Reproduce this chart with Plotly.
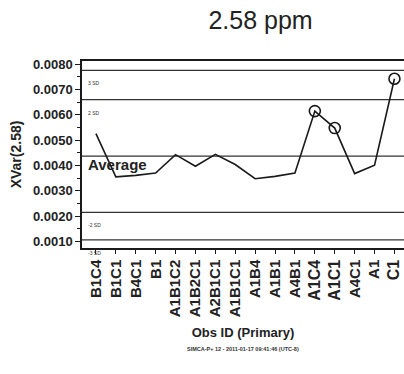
import plotly.graph_objects as go

# Observation IDs along the x axis, in run order
obs_ids = ["B1C4", "B1C1", "B4C1", "B1", "A1B1C2", "A1B2C1", "A2B1C1", "A1B1C1",
           "A1B4", "A1B1", "A4B1", "A1C4", "A1C1", "A4C1", "A1", "C1"]
# XVar(2.58) per observation
xvar = [0.00526, 0.00355, 0.00361, 0.00370, 0.00443, 0.00397, 0.00444, 0.00404,
        0.00348, 0.00357, 0.00370, 0.00615, 0.00548, 0.00368, 0.00401, 0.00743]
# Observations flagged with an open circle
flagged = ["A1C4", "A1C1", "C1"]

# Control-chart reference levels
ref_names = ["3 SD", "2 SD", "Average", "-2 SD", "-3 SD"]
ref_levels = [0.00776, 0.00660, 0.00437, 0.00215, 0.00106]

y_ticks = [0.0010, 0.0020, 0.0030, 0.0040, 0.0050, 0.0060, 0.0070, 0.0080]
y_range = [0.00074, 0.00813]

BOLD = "Liberation Sans"
INK = "#1a1a1a"

fig = go.Figure()

# Control limits and average line
for name, lvl in zip(ref_names, ref_levels):
    fig.add_shape(type="line", xref="paper", x0=0, x1=1, yref="y", y0=lvl, y1=lvl,
                  line=dict(color="#333333", width=1.3), layer="below")
    if name == "Average":
        fig.add_annotation(text="Average", xref="paper", x=0.012, y=lvl, yref="y",
                           xanchor="left", yanchor="top", yshift=2, showarrow=False,
                           font=dict(family=BOLD, size=15, color="#222222", weight="bold"))
    else:
        fig.add_annotation(text=name, xref="paper", x=0.012, y=lvl, yref="y",
                           xanchor="left", yanchor="top", yshift=-8, showarrow=False,
                           font=dict(family=BOLD, size=5, color="#333333"))

fig.add_trace(go.Scatter(x=obs_ids, y=xvar, mode="lines",
                         line=dict(color=INK, width=1.6), showlegend=False))

fx = [o for o in obs_ids if o in flagged]
fy = [v for o, v in zip(obs_ids, xvar) if o in flagged]
fig.add_trace(go.Scatter(x=fx, y=fy, mode="markers",
                         marker=dict(symbol="circle-open", size=11, color=INK,
                                     line=dict(color=INK, width=1.6)),
                         showlegend=False))

tick_text = []
for o in obs_ids:
    if o in flagged:
        tick_text.append(f"<span style='font-size:16px'>{o}</span>")
    else:
        tick_text.append(o)

fig.update_xaxes(
    type="category", categoryorder="array", categoryarray=obs_ids,
    tickmode="array", tickvals=obs_ids, ticktext=tick_text,
    range=[-0.7, 15.48], tickangle=-90,
    showline=True, linecolor=INK, linewidth=1.5, mirror=True,
    ticks="outside", ticklen=4, tickcolor=INK, showgrid=False, zeroline=False,
    tickfont=dict(family=BOLD, size=15, color="#222222", weight="bold"),
    title=dict(text="Obs ID (Primary)", standoff=12,
               font=dict(family=BOLD, size=13, color="#222222", weight="bold")),
)
fig.update_yaxes(
    range=y_range, tickmode="array", tickvals=y_ticks,
    ticktext=[f"{v:.4f}" for v in y_ticks],
    showline=True, linecolor=INK, linewidth=1.5, mirror=False,
    ticks="outside", ticklen=5, tickcolor=INK, showgrid=False, zeroline=False,
    minor=dict(dtick=0.0005, tick0=0.0005, ticks="outside", ticklen=3, tickcolor=INK),
    tickfont=dict(family=BOLD, size=13, color="#222222", weight="bold"),
    title=dict(text="XVar(2.58)", standoff=8,
               font=dict(family=BOLD, size=14, color="#222222", weight="bold")),
)

fig.add_annotation(text="SIMCA-P+ 12 - 2011-01-17 09:41:46 (UTC-8)", xref="paper", yref="paper",
                   x=0.5, y=0, yshift=-106, showarrow=False, xanchor="center",
                   font=dict(family=BOLD, size=5.5, color="#333333", weight="bold"))

fig.update_layout(
    width=404, height=374,
    margin=dict(l=82, r=0, t=61, b=126),
    paper_bgcolor="white", plot_bgcolor="white",
    title=dict(text="2.58 ppm", x=0.645, xanchor="center", y=0.945, yanchor="middle",
               font=dict(family="Liberation Sans", size=25, color="#222222")),
)

fig.write_html("out.html")
